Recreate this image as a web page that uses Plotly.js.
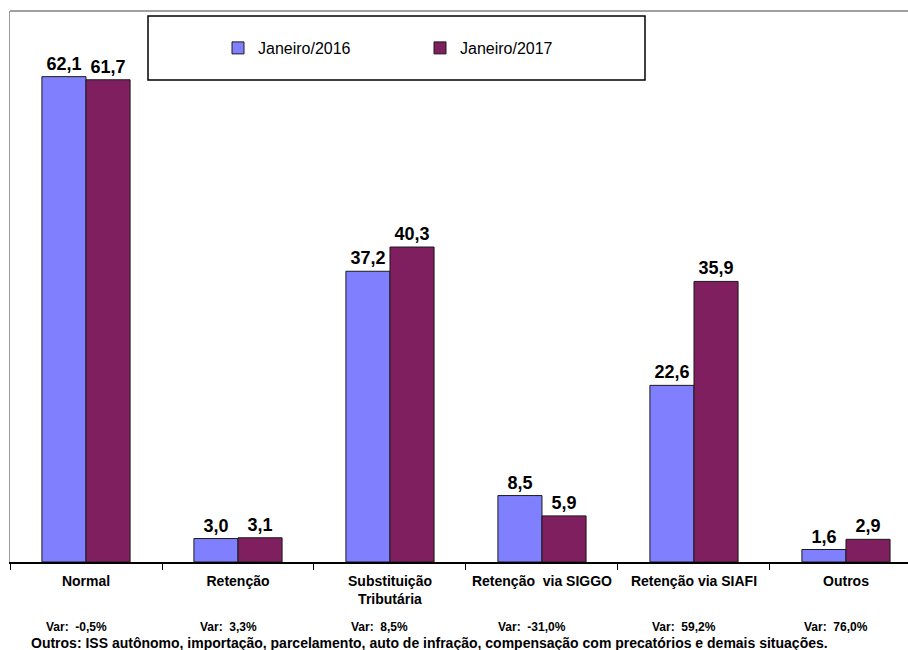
<!DOCTYPE html>
<html>
<head>
<meta charset="utf-8">
<script src="https://cdn.plot.ly/plotly-3.0.1.min.js"></script>
<style>html,body{margin:0;padding:0;background:#fff;}#chart{width:908px;height:650px;}</style>
</head>
<body>
<div id="chart"></div>
<script>
const categories = ["Normal", "Retenção", "Substituição<br>Tributária", "Retenção  via SIGGO", "Retenção via SIAFI", "Outros"];
const seriesNames = ["Janeiro/2016", "Janeiro/2017"];
const values2016 = [62.1, 3.0, 37.2, 8.5, 22.6, 1.6];
const values2017 = [61.7, 3.1, 40.3, 5.9, 35.9, 2.9];
const varLabels = ["Var:  -0,5%", "Var:  3,3%", "Var:  8,5%", "Var:  -31,0%", "Var:  59,2%", "Var:  76,0%"];
const footnote = "Outros: ISS autônomo, importação, parcelamento, auto de infração, compensação com precatórios e demais situações.";

const fmt = v => v.toFixed(1).replace('.', ',');
const FONT = "Arial, 'Liberation Sans', sans-serif";

function barTrace(name, vals, color) {
  return {
    type: 'bar',
    name: name,
    x: categories,
    y: vals,
    text: vals.map(fmt),
    textposition: 'outside',
    cliponaxis: false,
    constraintext: 'none',
    textfont: {family: FONT, size: 18, color: '#000', weight: 'bold'},
    marker: {color: color, line: {color: '#1a1a1a', width: 1}},
    hoverinfo: 'skip'
  };
}

const data = [
  barTrace(seriesNames[0], values2016, '#8080FF'),
  barTrace(seriesNames[1], values2017, '#7F1F5F')
];

const H = 650, T = 11, B = 88, PH = H - T - B;
const py = p => (H - B - p) / PH;

const annotations = varLabels.map((t, i) => ({
  x: categories[i], xref: 'x', y: py(627), yref: 'paper', yanchor: 'middle',
  text: t, showarrow: false, xshift: -10,
  font: {family: FONT, size: 12, color: '#000', weight: 'bold'}
}));
annotations.push({
  x: (429 - 10) / 898, xref: 'paper', y: py(643), yref: 'paper', yanchor: 'middle',
  text: footnote, showarrow: false,
  font: {family: FONT, size: 14, color: '#000', weight: 'bold'}
});

const layout = {
  width: 908, height: 650,
  margin: {l: 10, r: 0, t: T, b: B, pad: 0},
  paper_bgcolor: '#fff', plot_bgcolor: '#fff',
  barmode: 'group', bargap: 0.42, bargroupgap: 0,
  showlegend: true,
  legend: {
    orientation: 'h', x: (218 - 10) / 898, xanchor: 'left', y: py(48), yanchor: 'middle',
    bgcolor: 'rgba(0,0,0,0)', borderwidth: 0, entrywidth: 157,
    font: {family: FONT, size: 16, color: '#000'}
  },
  xaxis: {
    type: 'category', range: [-0.5, 5.408], fixedrange: true,
    tickson: 'boundaries', ticks: 'outside', ticklen: 6, tickwidth: 1, tickcolor: '#000',
    ticklabelstandoff: 5,
    showline: true, linecolor: '#000', linewidth: 2, showgrid: false, zeroline: false,
    tickfont: {family: FONT, size: 14, color: '#000', weight: 'bold'}
  },
  yaxis: {
    range: [0, 70.5], fixedrange: true, showticklabels: false, ticks: '',
    showgrid: false, zeroline: false, showline: true, linecolor: '#999', linewidth: 1
  },
  shapes: [
    {type: 'line', xref: 'paper', yref: 'paper', x0: 0, x1: 1.02, y0: 1, y1: 1,
     line: {color: '#a0a0a0', width: 2}},
    {type: 'rect', xref: 'paper', yref: 'paper',
     x0: (148 - 10) / 898, x1: (645 - 10) / 898, y0: py(80), y1: py(16),
     fillcolor: '#fff', line: {color: '#000', width: 1.5}, layer: 'below'}
  ],
  annotations: annotations
};

Plotly.newPlot('chart', data, layout, {displayModeBar: false, staticPlot: true});
</script>
</body>
</html>
